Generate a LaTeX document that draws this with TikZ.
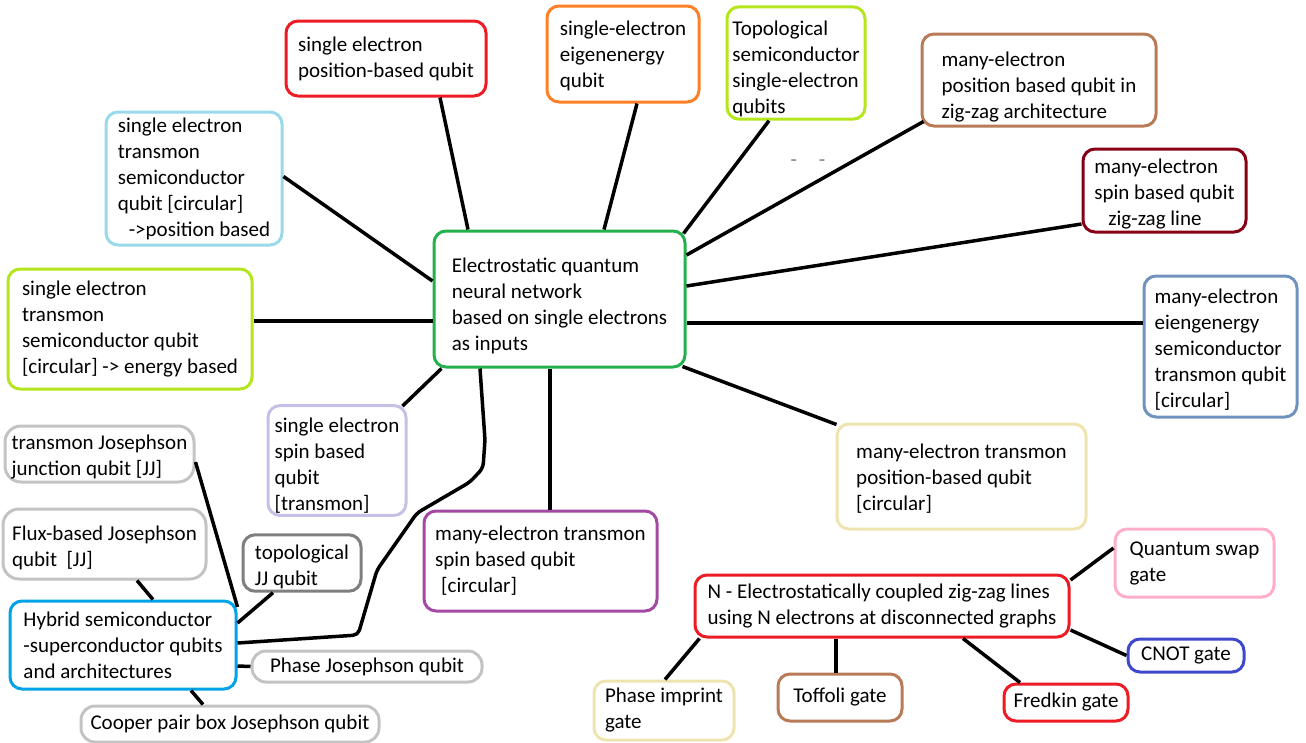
\documentclass[tikz,border=0pt]{standalone}
\usepackage{fontspec}
\setmainfont{Carlito}

\definecolor{pred}{RGB}{237,28,36}
\definecolor{porange}{RGB}{255,127,39}
\definecolor{plime}{RGB}{181,230,29}
\definecolor{pbrown}{RGB}{185,122,87}
\definecolor{pdarkred}{RGB}{136,0,21}
\definecolor{psteel}{RGB}{112,146,190}
\definecolor{pcream}{RGB}{239,228,176}
\definecolor{ppink}{RGB}{255,174,201}
\definecolor{pblue}{RGB}{63,72,204}
\definecolor{ppurple}{RGB}{163,73,164}
\definecolor{plavender}{RGB}{200,191,231}
\definecolor{pgreen}{RGB}{34,177,76}
\definecolor{plightblue}{RGB}{153,217,234}
\definecolor{pgray}{RGB}{195,195,195}
\definecolor{pdarkgray}{RGB}{127,127,127}
\definecolor{pcyan}{RGB}{0,162,232}

\tikzset{qbox/.style={draw=#1, rounded corners=12pt, line width=3pt, align=left, inner sep=2pt,
    font=\fontsize{21}{26}\selectfont}}
\tikzstyle{edgeline}=[line width=3.5pt]

\begin{document}
\begin{tikzpicture}[x=1pt, y=-1pt]
\useasboundingbox (0,0) rectangle (1306,742);

% centre
\node [qbox=pgreen, minimum width=251pt, minimum height=136pt] (eqnn) at (559.5,299)
    {\rule{0pt}{29pt}Electrostatic quantum\\neural network\\based on single electrons\\as inputs};

% upper row
\node [qbox=pred, minimum width=200pt, minimum height=75pt] (selpos) at (386,58.5)
    {single electron\\position-based qubit};
\node [qbox=porange, minimum width=152pt, minimum height=96pt] (eigen) at (623,54)
    {\rule{0pt}{18pt}single-electron\\eigenenergy\\qubit};
\node [qbox=plime, minimum width=138pt, minimum height=112pt] (topo) at (796,63)
    {\rule{0pt}{27pt}Topological\\semiconductor\\single-electron\\qubits};
\node [qbox=pbrown, minimum width=234pt, minimum height=92pt] (zigpos) at (1039,80)
    {\rule{0pt}{29pt}many-electron\\position based qubit in\\zig-zag architecture};
\node [qbox=pdarkred, minimum width=163pt, minimum height=83pt] (zigspin) at (1164.5,190.5)
    {\rule{0pt}{21pt}many-electron\\spin based qubit\\\hspace*{14pt}zig-zag line};
\node [text=pdarkgray, font=\fontsize{21}{26}\selectfont] (marks) at (808,163) {-\hspace{22pt}-};

% right side
\node [qbox=psteel, minimum width=153pt, minimum height=141pt] (eigenmany) at (1220.5,346.5)
    {\rule{0pt}{21pt}many-electron\\eiengenergy\\semiconductor\\transmon qubit\\{[circular]}};
\node [qbox=pcream, minimum width=249pt, minimum height=105pt] (tposm) at (961.5,476.5)
    {\rule{0pt}{19pt}many-electron transmon\\position-based qubit\\{[circular]}};

% left side
\node [qbox=plightblue, minimum width=176pt, minimum height=133pt] (seposc) at (194,178.5)
    {single electron\\transmon\\semiconductor\\qubit [circular]\\\hspace*{11pt}->position based};
\node [qbox=plime, minimum width=244pt, minimum height=120pt] (seen) at (130,329)
    {single electron\\transmon\\semiconductor qubit\\{[circular]} -> energy based};
\node [qbox=plavender, minimum width=138pt, minimum height=109pt] (sespin) at (337,460.5)
    {\rule{0pt}{25pt}single electron\\spin based\\qubit\\{[transmon]}};
\node [qbox=ppurple, minimum width=233pt, minimum height=100pt] (mtspin) at (540.5,561)
    {many-electron transmon\\spin based qubit\\\hspace*{6pt}[circular]};

% hybrid group
\node [qbox=pcyan, minimum width=226pt, minimum height=88pt] (hybrid) at (123,645)
    {Hybrid semiconductor\\-superconductor qubits\\and architectures};
\node [qbox=pgray, rounded corners=16pt, minimum width=189pt, minimum height=56pt] (tjj) at (99.5,454)
    {\rule{0pt}{21pt}transmon Josephson\\junction qubit [JJ]};
\node [qbox=pgray, rounded corners=16pt, minimum width=203pt, minimum height=70pt] (flux) at (104.5,544)
    {\rule{0pt}{23pt}Flux-based Josephson\\qubit~ [JJ]};
\node [qbox=pdarkgray, minimum width=118pt, minimum height=54pt] (topojj) at (302,563)
    {\rule{0pt}{23pt}topological\\JJ qubit};
\node [qbox=pgray, rounded corners=14pt, minimum width=230pt, minimum height=31pt] (phasejj) at (367,666.5)
    {Phase Josephson qubit};
\node [qbox=pgray, rounded corners=14pt, minimum width=298pt, minimum height=36pt] (cooper) at (230,724)
    {Cooper pair box Josephson qubit};

% gates
\node [qbox=pred, minimum width=374pt, minimum height=62pt] (ncoup) at (882,606)
    {N - Electrostatically coupled zig-zag lines\\using N electrons at disconnected graphs};
\node [qbox=ppink, minimum width=159pt, minimum height=68pt] (swap) at (1194.5,563)
    {Quantum swap\\gate};
\node [qbox=pblue, minimum width=116pt, minimum height=33pt] (cnot) at (1186,655.5) {CNOT gate};
\node [qbox=pred, minimum width=124pt, minimum height=37pt] (fredkin) at (1066,702.5) {Fredkin gate};
\node [qbox=pbrown, minimum width=124pt, minimum height=47pt] (toffoli) at (840,697.5) {Toffoli gate};
\node [qbox=pcream, minimum width=140pt, minimum height=59pt] (phimp) at (664,710.5)
    {Phase imprint\\gate};

% connectors to the centre
\draw [edgeline] ([xshift=54pt]selpos.south) -- ([xshift=-91.5pt]eqnn.north);
\draw [edgeline] ([xshift=14pt]eigen.south) -- ([xshift=44.5pt]eqnn.north);
\draw [edgeline] ([xshift=-27pt]topo.south) -- ([xshift=-3pt,yshift=-4pt]eqnn.north east);
\draw [edgeline] ([xshift=3pt,yshift=6pt]zigpos.south west) -- ([yshift=44pt]eqnn.east);
\draw [edgeline] ([yshift=-33.5pt]zigspin.west) -- ([yshift=13pt]eqnn.east);
\draw [edgeline] ([yshift=23.5pt]eigenmany.west) -- ([yshift=-24pt]eqnn.east);
\draw [edgeline] ([xshift=1pt,yshift=-2pt]tposm.north west) -- ([xshift=-4pt,yshift=2pt]eqnn.south east);
\draw [edgeline] ([yshift=2pt]seposc.east) -- ([yshift=18pt]eqnn.west);
\draw [edgeline] ([yshift=8pt]seen.east) -- ([yshift=-22pt]eqnn.west);
\draw [edgeline] ([xshift=-5pt,yshift=-2pt]sespin.north east) -- ([xshift=9pt]eqnn.south west);
\draw [edgeline] ([xshift=9.5pt]mtspin.north) -- ([xshift=-9.5pt]eqnn.south);
\draw [edgeline, rounded corners=5pt] ([xshift=-79.5pt]eqnn.south) -- (485,440) -- (483,468)
    -- (470,482) -- (417,513) -- (377,570) -- (358,635) -- ([yshift=2pt]hybrid.east);

% hybrid connectors
\draw [edgeline] ([yshift=-8pt]tjj.east) -- ([yshift=38pt]hybrid.east);
\draw [edgeline] ([xshift=32.5pt]flux.south) -- ([xshift=30pt]hybrid.north);
\draw [edgeline] ([xshift=-29pt]topojj.south) -- ([yshift=22pt]hybrid.east);
\draw [edgeline] (phasejj.west) -- ([yshift=-21pt]hybrid.east);
\draw [edgeline] ([xshift=68pt]hybrid.south) -- ([xshift=-27pt]cooper.north);

% gate connectors
\draw [edgeline] ([xshift=6pt]ncoup.south west) -- ([xshift=1pt]phimp.north);
\draw [edgeline] ([xshift=-46pt]ncoup.south) -- ([xshift=-4pt]toffoli.north);
\draw [edgeline] ([xshift=81pt]ncoup.south) -- ([xshift=-46pt]fredkin.north);
\draw [edgeline] ([yshift=-24pt]ncoup.east) -- (cnot.west);
\draw [edgeline] ([yshift=26pt]ncoup.east) -- ([yshift=15pt]swap.west);
\end{tikzpicture}
\end{document}
